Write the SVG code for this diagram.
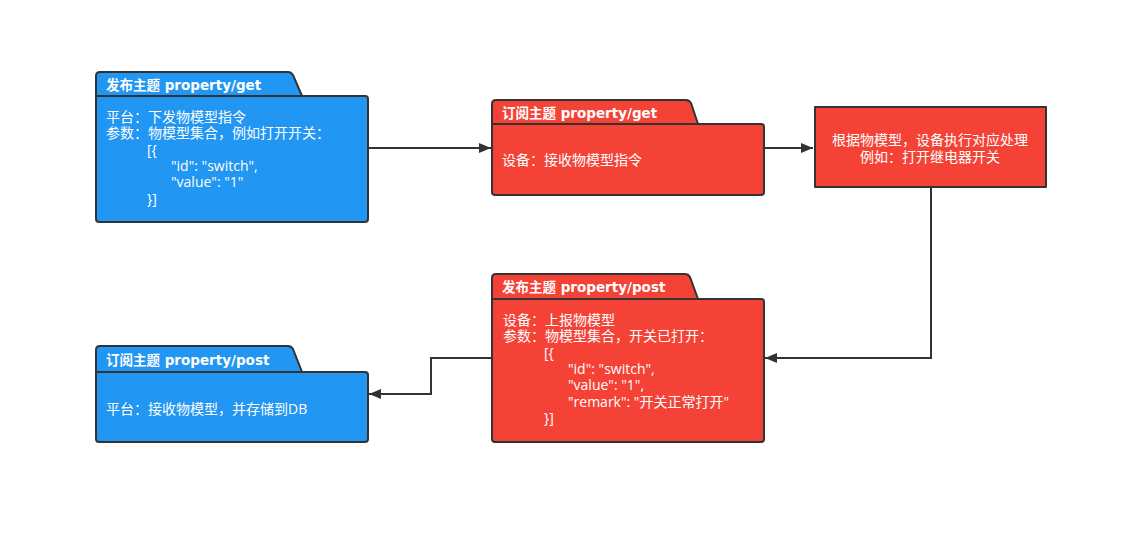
<svg xmlns="http://www.w3.org/2000/svg" width="1136" height="536" viewBox="0 0 1136 536">
<defs>
<style>
.blue{fill:#2196F3;stroke:#333;stroke-width:2;stroke-linejoin:round}
.red{fill:#F44336;stroke:#333;stroke-width:2;stroke-linejoin:round}
.sep{fill:none;stroke:#333;stroke-width:2}
.t{font-family:"Open Sans","Noto Sans CJK SC","Microsoft YaHei",sans-serif;font-size:14px;fill:#fff}
.h{font-family:"DejaVu Sans","Noto Sans CJK SC","Microsoft YaHei",sans-serif;font-size:13.5px;font-weight:bold;fill:#fff}
.c{fill:none;stroke:#333;stroke-width:2}
</style>
<marker id="arr" viewBox="0 0 12 10" refX="12" refY="5" markerWidth="12" markerHeight="10" markerUnits="userSpaceOnUse" orient="auto">
<path d="M0,0 L12,5 L0,10 Z" fill="#333"/>
</marker>
</defs>
<rect width="1136" height="536" fill="#fff"/>
<g id="connectors">
<path class="c" d="M369,148 H491" marker-end="url(#arr)"/>
<path class="c" d="M765,148 H813" marker-end="url(#arr)"/>
<path class="c" d="M931,188 V358 H765" marker-end="url(#arr)"/>
<path class="c" d="M492,358 H431 V394 H369" marker-end="url(#arr)"/>
</g>
<g id="pub-get">
<path class="blue" d="M96,219 V76 Q96,72 100,72 H288 Q291,72 293,75 L302,96 H365 Q368,96 368,99 V219 Q368,222 365,222 H99 Q96,222 96,219 Z"/>
<path class="sep" d="M96,96 H302"/>
<text class="h" x="106" y="90">发布主题 property/get</text>
<text class="t" x="106" y="122">平台：下发物模型指令</text>
<text class="t" x="106" y="138">参数：物模型集合，例如打开开关：</text>
<text class="t" x="147" y="155">[{</text>
<text class="t" x="171" y="171">"id": "switch",</text>
<text class="t" x="171" y="187">"value": "1"</text>
<text class="t" x="147" y="204">}]</text>
</g>
<g id="sub-get">
<path class="red" d="M492,192 V104 Q492,100 496,100 H686 Q689,100 691,103 L698,124 H761 Q764,124 764,127 V192 Q764,195 761,195 H495 Q492,195 492,192 Z"/>
<path class="sep" d="M492,124 H698"/>
<text class="h" x="502" y="118">订阅主题 property/get</text>
<text class="t" x="502" y="165">设备：接收物模型指令</text>
</g>
<g id="process">
<rect class="red" x="815" y="107" width="231" height="80"/>
<text class="t" x="930" y="145" text-anchor="middle">根据物模型，设备执行对应处理</text>
<text class="t" x="930" y="162" text-anchor="middle">例如：打开继电器开关</text>
</g>
<g id="pub-post">
<path class="red" d="M492,439 V278 Q492,274 496,274 H685 Q688,274 690,277 L698,299 H761 Q764,299 764,302 V439 Q764,442 761,442 H495 Q492,442 492,439 Z"/>
<path class="sep" d="M492,299 H698"/>
<text class="h" x="502" y="292">发布主题 property/post</text>
<text class="t" x="503" y="325">设备：上报物模型</text>
<text class="t" x="503" y="341">参数：物模型集合，开关已打开：</text>
<text class="t" x="544" y="358">[{</text>
<text class="t" x="568" y="374">"id": "switch",</text>
<text class="t" x="568" y="390">"value": "1",</text>
<text class="t" x="568" y="407">"remark": "开关正常打开"</text>
<text class="t" x="544" y="423">}]</text>
</g>
<g id="sub-post">
<path class="blue" d="M96,439 V350 Q96,346 100,346 H288 Q291,346 293,349 L302,372 H365 Q368,372 368,375 V439 Q368,442 365,442 H99 Q96,442 96,439 Z"/>
<path class="sep" d="M96,372 H302"/>
<text class="h" x="106" y="365">订阅主题 property/post</text>
<text class="t" x="106" y="414">平台：接收物模型，并存储到DB</text>
</g>
</svg>
